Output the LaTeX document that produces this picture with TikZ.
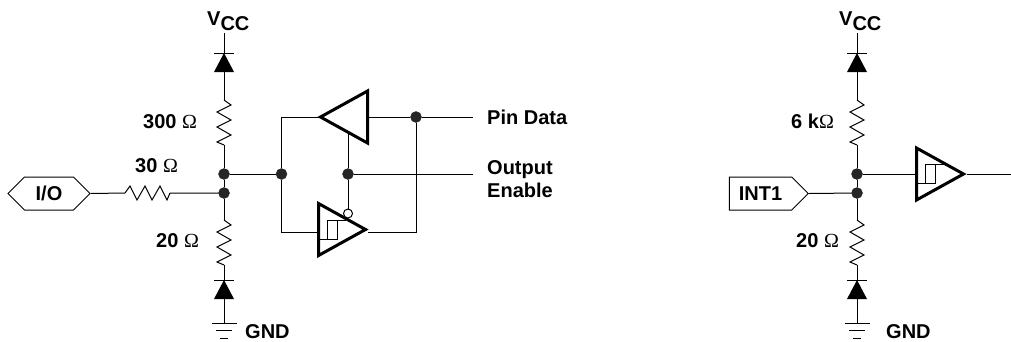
\documentclass[tikz,border=0pt]{standalone}
\usepackage{fontspec}
\setmainfont{Liberation Sans}
\newfontfamily\ohmfont{Liberation Serif}
\usetikzlibrary{shapes.symbols}
\newcommand{\ohm}{{\ohmfont\mdseries\symbol{"03A9}}}
\tikzset{
  wire/.style={line width=1pt},
  dot/.style={circle,fill=black!85,draw=black!85,inner sep=0pt,minimum size=11pt},
  lbl/.style={inner sep=0pt,anchor=base west,font=\fontsize{20}{24}\selectfont\bfseries},
  tag/.style={signal,draw,wire,inner sep=0pt,minimum height=33pt,signal pointer angle=90,font=\fontsize{20}{24}\selectfont\bfseries},
  pics/resistor/.style={code={
    \coordinate (-a) at (0,0);
    \coordinate (-b) at (0,45);
    \draw [wire] (-a) -- (7,5) -- (-7,12) -- (7,20) -- (-7,27) -- (7,35) -- (-7,42) -- (-b);
  }},
  pics/diode/.style={code={
    \coordinate (-a) at (0,0);
    \coordinate (-b) at (0,19);
    \draw [wire] (-10,0) -- (10,0);
    \fill (-a) -- (10,19) -- (-10,19) -- cycle;
  }},
  pics/ground/.style={code={
    \coordinate (-a) at (0,0);
    \draw [wire] (-12.5,0) -- (12.5,0) (-8,7.5) -- (8,7.5) (-4,15.5) -- (4,15.5);
  }},
  pics/buffer/.style={code={
    \coordinate (-in) at (0,0);
    \coordinate (-out) at (50,0);
    \draw [line width=3pt] (0,-26) -- (47,0) -- (0,26) -- cycle;
  }},
  pics/schmitt/.style={code={
    \coordinate (-in) at (0,0);
    \coordinate (-out) at (50,0);
    \draw [line width=3pt] (0,-26) -- (47,0) -- (0,26) -- cycle;
    \draw [line width=1pt] (27,-9.5) -- (8.5,-9.5) -- (8.5,9.5) (0,9.5) -- (18.5,9.5) -- (18.5,-9.5);
  }},
}
\begin{document}
\begin{tikzpicture}[x=1pt,y=-1pt]
  \useasboundingbox (0,0) rectangle (1011,341);

  \node [lbl] (vcca) at (207,25) {V\raisebox{-5pt}{CC}};
  \coordinate (topa) at (224,33);
  \pic (dua) at (224,53) {diode};
  \pic (rua) at (224,100) {resistor};
  \node [dot] (jua) at (224,174) {};
  \node [dot] (jla) at (224,193) {};
  \pic (rla) at (224,220) {resistor};
  \pic (dla) at (224,280) {diode};
  \pic (gnda) at (224,323) {ground};
  \node [tag,signal to=west and east,minimum width=82pt] (io) at (49,193.5) {I/O};
  \pic [rotate=90] (rio) at (125,193) {resistor};
  \node [lbl] at (143,128) {300 \ohm};
  \node [lbl] at (135,172) {30 \ohm};
  \node [lbl] at (156,247) {20 \ohm};
  \node [lbl] at (245,338) {GND};

  \draw [wire] (topa) -- (dua-a) (dua-b) -- (rua-a) (rua-b) -- (jua) (jua) -- (jla) (jla) -- (rla-a)
    (rla-b) -- (dla-a) (dla-b) -- (gnda-a);
  \draw [wire] (io.east) -- (rio-a) (rio-b) -- (jla);

  \node [dot] (jin) at (281.5,174) {};
  \node [dot] (jen) at (348,174) {};
  \node [dot] (jpin) at (416,117) {};
  \pic [rotate=180] (bdrv) at (367.5,117) {buffer};
  \pic (brcv) at (318.5,229.5) {schmitt};
  \node [circle,draw,wire,fill=white,inner sep=0pt,minimum size=9pt] (inv) at (348,213.5) {};
  \coordinate (bdrvin) at (320,117);
  \coordinate (bdrven) at (348,132);
  \coordinate (brcvin) at (318,232);
  \coordinate (brcvout) at (368,232);
  \coordinate (pin) at (473,117);
  \coordinate (oe) at (473,174);

  \draw [wire] (jua) -- (jin) (jen) -- (oe);
  \draw [wire] (jin) |- (bdrvin);
  \draw [wire] (jin) |- (brcvin);
  \draw [wire] (bdrv-in) -- (jpin) (jpin) -- (pin);
  \draw [wire] (jpin) |- (brcvout);
  \draw [wire] (bdrven) -- (jen) (jen) -- (inv);

  \node [lbl] (pinlbl) at (487,124) {Pin Data};
  \node [lbl] (oelbl) at (487,174) {Output};
  \node [lbl] (enlbl) at (487,197) {Enable};

  \node [lbl] (vccb) at (839,25) {V\raisebox{-5pt}{CC}};
  \coordinate (topb) at (857,33);
  \pic (dub) at (857,53) {diode};
  \pic (rub) at (857,100) {resistor};
  \node [dot] (jub) at (857,174) {};
  \node [dot] (jlb) at (857,193) {};
  \pic (rlb) at (857,220) {resistor};
  \pic (dlb) at (857,280) {diode};
  \pic (gndb) at (857,323) {ground};
  \node [tag,signal to=east,minimum width=79pt] (int) at (760.5,193.5) {INT1};
  \pic (bint) at (916.5,174) {schmitt};
  \coordinate (intout) at (1011,174);
  \node [lbl] at (791,128) {6 k\ohm};
  \node [lbl] at (796,247) {20 \ohm};
  \node [lbl] at (886,338) {GND};

  \draw [wire] (topb) -- (dub-a) (dub-b) -- (rub-a) (rub-b) -- (jub) (jub) -- (jlb) (jlb) -- (rlb-a)
    (rlb-b) -- (dlb-a) (dlb-b) -- (gndb-a);
  \draw [wire] (int.east) -- (jlb);
  \draw [wire] (jub) -- (bint-in) (bint-out) -- (intout);
\end{tikzpicture}
\end{document}
